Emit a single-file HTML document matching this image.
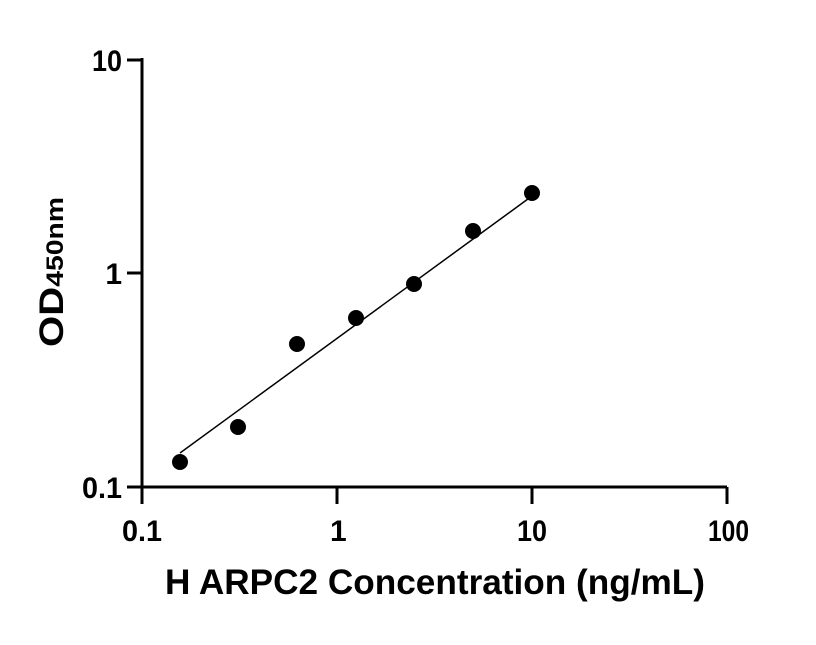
<!DOCTYPE html>
<html><head><style>body{margin:0;background:#fff}</style></head><body>
<svg width="816" height="640" xmlns="http://www.w3.org/2000/svg" font-family="Liberation Sans, sans-serif" font-weight="bold">
<rect width="816" height="640" fill="#fff"/>
<g stroke="#000" stroke-width="3" fill="none">
<path d="M142,58 V487 M127,60 H142 M127,273 H142 M127,487 H727"/>
<path d="M142,487 V504 M337,487 V504 M532,487 V504 M727,487 V504"/>
</g>
<line x1="180" y1="453" x2="532" y2="196" stroke="#000" stroke-width="1.5"/>
<g fill="#000">
<circle cx="180" cy="462" r="8"/><circle cx="238" cy="427" r="8"/><circle cx="297" cy="344" r="8"/>
<circle cx="356" cy="318" r="8"/><circle cx="414" cy="284" r="8"/><circle cx="473" cy="231" r="8"/><circle cx="532" cy="193" r="8"/>
</g>
<g font-size="30" text-anchor="end">
<text x="122" y="71" textLength="30" lengthAdjust="spacingAndGlyphs">10</text>
<text x="122" y="284">1</text>
<text x="122" y="498" textLength="40" lengthAdjust="spacingAndGlyphs">0.1</text>
</g>
<g font-size="30">
<text x="122" y="541" textLength="40" lengthAdjust="spacingAndGlyphs">0.1</text>
<text x="330" y="541">1</text>
<text x="517" y="541" textLength="30" lengthAdjust="spacingAndGlyphs">10</text>
<text x="708" y="541" textLength="41" lengthAdjust="spacingAndGlyphs">100</text>
</g>
<text x="165" y="594" font-size="35" textLength="540" lengthAdjust="spacingAndGlyphs">H ARPC2 Concentration (ng/mL)</text>
<text transform="translate(63,347) rotate(-90)" font-size="34" textLength="150" lengthAdjust="spacingAndGlyphs">OD<tspan font-size="24">450nm</tspan></text>
</svg>
</body></html>
